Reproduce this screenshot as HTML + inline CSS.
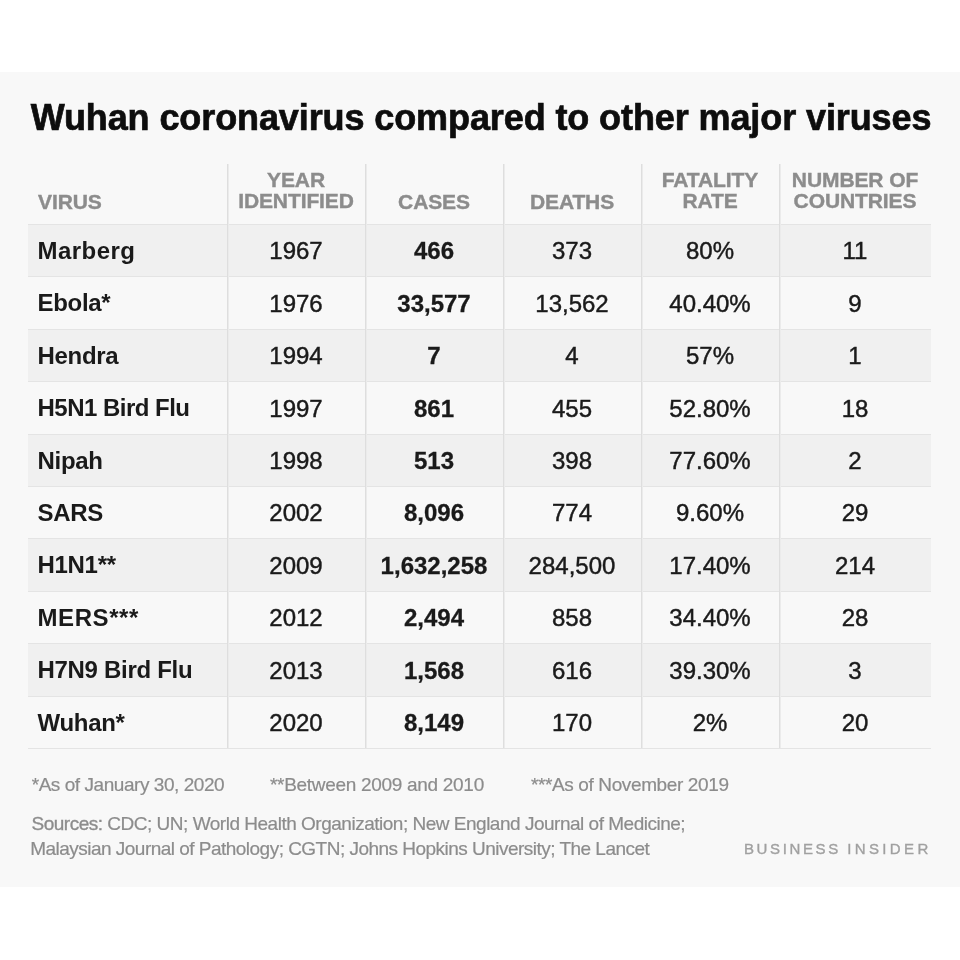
<!DOCTYPE html><html><head><meta charset="utf-8"><style>
*{margin:0;padding:0;box-sizing:border-box}
html,body{width:960px;height:960px;background:#fff;overflow:hidden}
body{position:relative;font-family:"Liberation Sans",sans-serif}
#panel{position:absolute;left:0;top:72px;width:960px;height:815px;background:#f8f8f8}
.t{position:absolute;white-space:nowrap;line-height:1}
#wrap{position:absolute;left:0;top:0;width:960px;height:960px;will-change:transform}
#title{left:30.7px;top:100.3px;font-size:36px;font-weight:bold;color:#0d0d0d;letter-spacing:-0.1px;-webkit-text-stroke:0.7px #0d0d0d}
.row{position:absolute;left:28px;width:903px;height:53px}
.odd{background:#f0f0f0}
.hl{position:absolute;left:28px;width:903px;height:1px;background:#e4e4e4}
.vl{position:absolute;width:1px;top:164px;height:584px;background:#dedede;box-shadow:1px 0 0 #ebebeb}
.h{position:absolute;font-size:21px;font-weight:bold;color:#8c8c8c;line-height:21.5px;text-align:center;letter-spacing:-0.1px;-webkit-text-stroke:0.4px #8c8c8c}
.c{position:absolute;font-size:24px;color:#1a1a1a;text-align:center;line-height:1;white-space:nowrap}
.b{font-weight:bold}
.c{-webkit-text-stroke:0.45px #1a1a1a}
.c.b{-webkit-text-stroke:0.3px #1a1a1a}
.c.n{-webkit-text-stroke:0}
.n{text-align:left;font-weight:bold;letter-spacing:-0.3px}
.fn{position:absolute;font-size:19px;color:#8c8c8c;letter-spacing:-0.5px;white-space:nowrap;line-height:1;-webkit-text-stroke:0.2px #8c8c8c}
.bi{position:absolute;left:744px;top:841.3px;font-size:15px;color:#a0a0a0;-webkit-text-stroke:0.35px #a0a0a0;letter-spacing:2.87px;white-space:nowrap;line-height:1}
</style></head><body>
<div id="panel"></div><div id="wrap">
<div class="t" id="title">Wuhan coronavirus compared to other major viruses</div>
<div class="row odd" style="top:225px;height:51px"></div>
<div class="row odd" style="top:330px;height:51px"></div>
<div class="row odd" style="top:435px;height:51px"></div>
<div class="row odd" style="top:539px;height:52px"></div>
<div class="row odd" style="top:644px;height:52px"></div>
<div class="hl" style="top:224px"></div>
<div class="hl" style="top:276px"></div>
<div class="hl" style="top:329px"></div>
<div class="hl" style="top:381px"></div>
<div class="hl" style="top:434px"></div>
<div class="hl" style="top:486px"></div>
<div class="hl" style="top:538px"></div>
<div class="hl" style="top:591px"></div>
<div class="hl" style="top:643px"></div>
<div class="hl" style="top:696px"></div>
<div class="hl" style="top:748px"></div>
<div class="vl" style="left:227px"></div>
<div class="vl" style="left:365px"></div>
<div class="vl" style="left:503px"></div>
<div class="vl" style="left:641px"></div>
<div class="vl" style="left:779px"></div>
<div class="h" style="left:38px;top:191.4px;text-align:left">VIRUS</div>
<div class="h" style="left:227px;width:138px;top:168.9px">YEAR<br>IDENTIFIED</div>
<div class="h" style="left:365px;width:138px;top:191.4px">CASES</div>
<div class="h" style="left:503px;width:138px;top:191.4px">DEATHS</div>
<div class="h" style="left:641px;width:138px;top:168.9px">FATALITY<br>RATE</div>
<div class="h" style="left:779px;width:152px;top:168.9px">NUMBER OF<br>COUNTRIES</div>
<div class="c n" style="left:37.5px;top:238.9px;letter-spacing:0.45px">Marberg</div>
<div class="c" style="left:227px;width:138px;top:239.4px">1967</div>
<div class="c b" style="left:365px;width:138px;top:239.4px">466</div>
<div class="c" style="left:503px;width:138px;top:239.4px">373</div>
<div class="c" style="left:641px;width:138px;top:239.4px">80%</div>
<div class="c" style="left:779px;width:152px;top:239.4px">11</div>
<div class="c n" style="left:37.5px;top:291.3px;letter-spacing:-0.3px">Ebola*</div>
<div class="c" style="left:227px;width:138px;top:291.8px">1976</div>
<div class="c b" style="left:365px;width:138px;top:291.8px">33,577</div>
<div class="c" style="left:503px;width:138px;top:291.8px">13,562</div>
<div class="c" style="left:641px;width:138px;top:291.8px">40.40%</div>
<div class="c" style="left:779px;width:152px;top:291.8px">9</div>
<div class="c n" style="left:37.5px;top:343.7px;letter-spacing:-0.3px">Hendra</div>
<div class="c" style="left:227px;width:138px;top:344.2px">1994</div>
<div class="c b" style="left:365px;width:138px;top:344.2px">7</div>
<div class="c" style="left:503px;width:138px;top:344.2px">4</div>
<div class="c" style="left:641px;width:138px;top:344.2px">57%</div>
<div class="c" style="left:779px;width:152px;top:344.2px">1</div>
<div class="c n" style="left:37.5px;top:396.1px;letter-spacing:-0.52px">H5N1 Bird Flu</div>
<div class="c" style="left:227px;width:138px;top:396.6px">1997</div>
<div class="c b" style="left:365px;width:138px;top:396.6px">861</div>
<div class="c" style="left:503px;width:138px;top:396.6px">455</div>
<div class="c" style="left:641px;width:138px;top:396.6px">52.80%</div>
<div class="c" style="left:779px;width:152px;top:396.6px">18</div>
<div class="c n" style="left:37.5px;top:448.5px;letter-spacing:-0.3px">Nipah</div>
<div class="c" style="left:227px;width:138px;top:449.0px">1998</div>
<div class="c b" style="left:365px;width:138px;top:449.0px">513</div>
<div class="c" style="left:503px;width:138px;top:449.0px">398</div>
<div class="c" style="left:641px;width:138px;top:449.0px">77.60%</div>
<div class="c" style="left:779px;width:152px;top:449.0px">2</div>
<div class="c n" style="left:37.5px;top:500.9px;letter-spacing:-0.3px">SARS</div>
<div class="c" style="left:227px;width:138px;top:501.4px">2002</div>
<div class="c b" style="left:365px;width:138px;top:501.4px">8,096</div>
<div class="c" style="left:503px;width:138px;top:501.4px">774</div>
<div class="c" style="left:641px;width:138px;top:501.4px">9.60%</div>
<div class="c" style="left:779px;width:152px;top:501.4px">29</div>
<div class="c n" style="left:37.5px;top:553.3px;letter-spacing:-0.3px">H1N1**</div>
<div class="c" style="left:227px;width:138px;top:553.8px">2009</div>
<div class="c b" style="left:365px;width:138px;top:553.8px">1,632,258</div>
<div class="c" style="left:503px;width:138px;top:553.8px">284,500</div>
<div class="c" style="left:641px;width:138px;top:553.8px">17.40%</div>
<div class="c" style="left:779px;width:152px;top:553.8px">214</div>
<div class="c n" style="left:37.5px;top:605.7px;letter-spacing:0.58px">MERS***</div>
<div class="c" style="left:227px;width:138px;top:606.2px">2012</div>
<div class="c b" style="left:365px;width:138px;top:606.2px">2,494</div>
<div class="c" style="left:503px;width:138px;top:606.2px">858</div>
<div class="c" style="left:641px;width:138px;top:606.2px">34.40%</div>
<div class="c" style="left:779px;width:152px;top:606.2px">28</div>
<div class="c n" style="left:37.5px;top:658.1px;letter-spacing:-0.3px">H7N9 Bird Flu</div>
<div class="c" style="left:227px;width:138px;top:658.6px">2013</div>
<div class="c b" style="left:365px;width:138px;top:658.6px">1,568</div>
<div class="c" style="left:503px;width:138px;top:658.6px">616</div>
<div class="c" style="left:641px;width:138px;top:658.6px">39.30%</div>
<div class="c" style="left:779px;width:152px;top:658.6px">3</div>
<div class="c n" style="left:37.5px;top:710.5px;letter-spacing:-0.3px">Wuhan*</div>
<div class="c" style="left:227px;width:138px;top:711.0px">2020</div>
<div class="c b" style="left:365px;width:138px;top:711.0px">8,149</div>
<div class="c" style="left:503px;width:138px;top:711.0px">170</div>
<div class="c" style="left:641px;width:138px;top:711.0px">2%</div>
<div class="c" style="left:779px;width:152px;top:711.0px">20</div>
<div class="fn" style="left:31.7px;top:774.5px;letter-spacing:-0.45px">*As of January 30, 2020</div>
<div class="fn" style="left:270px;top:774.5px;letter-spacing:-0.3px">**Between 2009 and 2010</div>
<div class="fn" style="left:531px;top:774.5px;letter-spacing:-0.38px">***As of November 2019</div>
<div class="fn" style="left:31.5px;top:814.3px;letter-spacing:-0.49px"><span style="-webkit-text-stroke:0.35px #8e8e8e">Sources:</span> CDC; UN; World Health Organization; New England Journal of Medicine;</div>
<div class="fn" style="left:30.2px;top:838.7px;letter-spacing:-0.52px">Malaysian Journal of Pathology; CGTN; Johns Hopkins University; The Lancet</div>
<div class="bi" style="left:744px;letter-spacing:2.62px">BUSINESS</div><div class="bi" style="left:847.3px;letter-spacing:3.35px">INSIDER</div>
</div></body></html>
